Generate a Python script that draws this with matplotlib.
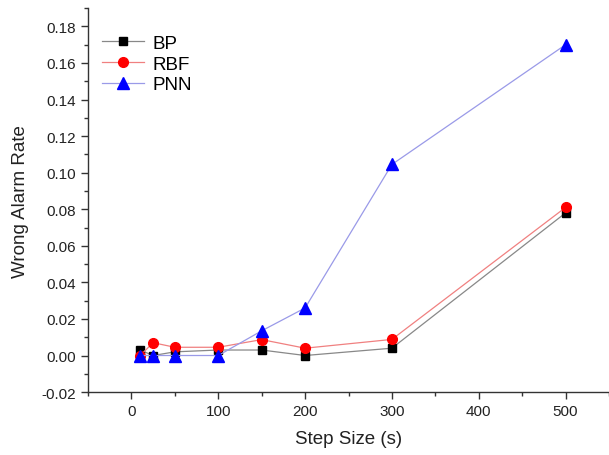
import matplotlib
matplotlib.use("Agg")
import matplotlib.pyplot as plt
from matplotlib.ticker import MultipleLocator, FormatStrFormatter

plt.rcParams['font.family'] = ['Liberation Sans', 'DejaVu Sans']

step = [10, 25, 50, 100, 150, 200, 300, 500]
bp = [0.003, 0.000, 0.002, 0.003, 0.003, 0.000, 0.004, 0.078]
rbf = [0.000, 0.007, 0.0045, 0.0045, 0.0087, 0.004, 0.0088, 0.081]
pnn = [0.000, 0.000, 0.000, 0.000, 0.0135, 0.026, 0.1045, 0.170]

fig = plt.figure(figsize=(6.09, 4.56), dpi=100)
ax = fig.add_axes([0.1445, 0.138, 0.8555, 0.842])

ax.plot(step, bp, color='#888888', lw=0.9, marker='s', mfc='black', mec='black', ms=6, label='BP')
ax.plot(step, rbf, color='#f08080', lw=0.9, marker='o', mfc='red', mec='red', ms=7, label='RBF')
ax.plot(step, pnn, color='#9a9ae8', lw=0.9, marker='^', mfc='blue', mec='blue', ms=8, label='PNN')

ax.set_xlim(-50, 550)
ax.set_ylim(-0.02, 0.19)
ax.xaxis.set_major_locator(MultipleLocator(100))
ax.xaxis.set_minor_locator(MultipleLocator(50))
ax.yaxis.set_major_locator(MultipleLocator(0.02))
ax.yaxis.set_minor_locator(MultipleLocator(0.01))
ax.yaxis.set_major_formatter(FormatStrFormatter('%.2f'))

for s in ['top', 'right']:
    ax.spines[s].set_visible(False)
for s in ['left', 'bottom']:
    ax.spines[s].set_color('#333333')
    ax.spines[s].set_linewidth(1.0)

ax.tick_params(which='major', direction='out', length=5, width=1, color='#333333', labelsize=11, colors='#222222')
ax.tick_params(which='minor', direction='out', length=3, width=1, color='#333333')

ax.set_xlabel('Step Size (s)', fontsize=13.5, color='#222222', labelpad=9)
ax.set_ylabel('Wrong Alarm Rate', fontsize=13.5, color='#222222', labelpad=9)

ax.legend(loc='upper left', bbox_to_anchor=(-0.005, 0.975), frameon=False, fontsize=13.5,
          handlelength=2.2, handletextpad=0.5, labelspacing=0.2)

fig.savefig('out.png', dpi=100)
